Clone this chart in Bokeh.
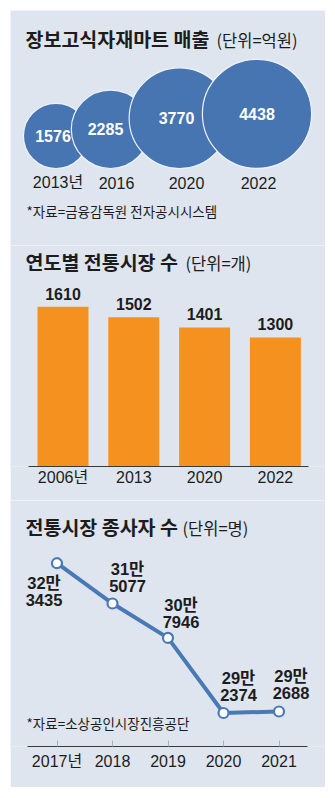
import math
from bokeh.plotting import figure
from bokeh.models import Range1d, FixedTicker, ColumnDataSource
from bokeh.layouts import column
from bokeh.core.properties import value
from bokeh.embed import file_html
from bokeh.resources import INLINE

# ---------------- data ----------------
sales_years = ["2013년", "2016", "2020", "2022"]
sales_values = [1576, 2285, 3770, 4438]          # 억원

market_years = ["2006년", "2013", "2020", "2022"]
market_counts = [1610, 1502, 1401, 1300]         # 개

worker_years = [2017, 2018, 2019, 2020, 2021]
worker_year_labels = ["2017년", "2018", "2019", "2020", "2021"]
worker_counts = [323435, 315077, 307946, 292374, 292688]   # 명

# ---------------- style / layout ----------------
PANEL = "#dee5ef"
BLUE = "#4775b1"
LINE_BLUE = "#4a7ab6"
ORANGE = "#f5921f"
DARK = "#1c1c1c"
KR = "Noto Sans CJK KR"
NUM = "'Liberation Sans', 'Noto Sans CJK KR', sans-serif"
W = 315
X0, X1 = 10, 325


def base_fig(h, xr, yr, bottom=0, xaxis=True):
    p = figure(width=W, height=h, x_range=xr, y_range=yr,
               output_backend="svg", toolbar_location=None,
               x_axis_location="below" if xaxis else None,
               y_axis_location=None,
               min_border_left=0, min_border_right=0, min_border_top=0,
               min_border_bottom=bottom)
    p.background_fill_color = PANEL
    p.border_fill_color = PANEL
    p.outline_line_color = None
    p.grid.visible = False
    return p


def titles(p, y, bold, unit, unit_x, yname="default", xname="default"):
    p.text(x=[25], y=[y], text=[bold], text_font=value(KR), text_font_style="bold",
           text_font_size="19.5px", text_color=DARK, text_baseline="middle",
           text_align="left", x_range_name=xname, y_range_name=yname)
    p.text(x=[unit_x], y=[y + 1], text=[unit], text_font=value(KR),
           text_font_size="16.5px", text_color=DARK, text_baseline="middle",
           text_align="left", x_range_name=xname, y_range_name=yname)


# ---------------- 1) bubbles ----------------
F1_TOP, F1_BOT = 10, 245
p1 = base_fig(F1_BOT - F1_TOP, Range1d(X0, X1), Range1d(F1_BOT, F1_TOP), xaxis=False)
titles(p1, 38, "장보고식자재마트 매출", "(단위=억원)", 216)

BUBBLE_X = [55.5, 110, 179, 256.5]
BUBBLE_BOTTOM = 168
BUBBLE_LABEL_DX = [-3, -5, -3, 0]
K = 0.82
radii = [K * math.sqrt(v) for v in sales_values]
src1 = ColumnDataSource(dict(
    x=BUBBLE_X,
    y=[BUBBLE_BOTTOM - r for r in radii],
    r=radii,
    dx=BUBBLE_LABEL_DX,
    label=[str(v) for v in sales_values],
))
p1.circle(x="x", y="y", radius="r", source=src1, fill_color=BLUE,
          line_color="#eef3fa", line_width=1.2)
p1.text(x="x", y="y", text="label", source=src1, x_offset="dx",
        text_font=value(NUM),
        text_font_style="bold", text_font_size="16px", text_color="white",
        text_align="center", text_baseline="middle")
YEAR_X = [57.5, 116, 186, 258]
p1.text(x=YEAR_X, y=[182] * 4, text=sales_years, text_font=value(NUM),
        text_font_size="16px", text_color=DARK, text_align="center",
        text_baseline="middle")
p1.text(x=[26], y=[210], text=["*자료=금융감독원 전자공시시스템"], text_font=value(KR),
        text_font_size="13.5px", text_color=DARK, text_align="left",
        text_baseline="middle")

# ---------------- 2) bars ----------------
F2_TOP, F2_BASE, F2_BOT = 245, 466, 500
BAR_X0, BAR_STEP = 62.5, 70.8
SCALE2 = 0.0993  # px per unit
s2 = -(BAR_X0 - X0) / BAR_STEP
xr2 = Range1d(s2, s2 + W / BAR_STEP)
yr2 = Range1d(0, (F2_BASE - F2_TOP) / SCALE2)
p2 = base_fig(F2_BOT - F2_TOP, xr2, yr2, bottom=F2_BOT - F2_BASE)
p2.extra_x_ranges = {"px": Range1d(X0, X1)}
p2.extra_y_ranges = {"px": Range1d(F2_BASE, F2_TOP)}
titles(p2, 261, "연도별 전통시장 수", "(단위=개)", 185, yname="px", xname="px")

idx = list(range(len(market_counts)))
src2 = ColumnDataSource(dict(x=idx, top=market_counts,
                             label=[str(v) for v in market_counts]))
p2.vbar(x="x", top="top", bottom=0, width=51 / BAR_STEP, source=src2,
        fill_color=ORANGE, line_color=None)
p2.text(x="x", y="top", text="label", source=src2, text_font=value(NUM),
        text_font_style="bold", text_font_size="16px", text_color=DARK,
        text_align="center", text_baseline="middle", y_offset=-13)
ax2 = p2.xaxis[0]
ax2.ticker = FixedTicker(ticks=idx)
ax2.major_label_overrides = {i: lab for i, lab in zip(idx, market_years)}
ax2.major_tick_in = 0
ax2.major_tick_out = 0
ax2.minor_tick_line_color = None
ax2.axis_line_color = "#3a3a3a"
ax2.axis_line_width = 1
ax2.major_label_text_font = NUM
ax2.major_label_text_font_size = "16px"
ax2.major_label_text_color = DARK
ax2.major_label_standoff = 2
ax2.bounds = (s2 + (28 - X0) / BAR_STEP, s2 + (308 - X0) / BAR_STEP)

# ---------------- 3) line ----------------
F3_TOP, F3_BASE, F3_BOT = 500, 746, 787
YR_X0, YR_STEP = 56.5, 55.5
s3 = worker_years[0] - (YR_X0 - X0) / YR_STEP
xr3 = Range1d(s3, s3 + W / YR_STEP)
SCALE3 = 0.004823  # px per person
ANCHOR_PX = 562.7
anchor_v = max(worker_counts)
yr3 = Range1d(anchor_v - (F3_BASE - ANCHOR_PX) / SCALE3,
              anchor_v + (ANCHOR_PX - F3_TOP) / SCALE3)
p3 = base_fig(F3_BOT - F3_TOP, xr3, yr3, bottom=F3_BOT - F3_BASE)
p3.extra_x_ranges = {"px": Range1d(X0, X1)}
p3.extra_y_ranges = {"px": Range1d(F3_BASE, F3_TOP)}
titles(p3, 526, "전통시장 종사자 수", "(단위=명)", 182, yname="px", xname="px")

LBL_DX = [-13, 15, 13, 15, 12]
LBL_DY = [20, -35, -33, -35, -35]
src3 = ColumnDataSource(dict(
    x=worker_years, y=worker_counts,
    top=[f"{v // 10000}만" for v in worker_counts],
    bot=[f"{v % 10000:04d}" for v in worker_counts],
    dx=LBL_DX, dy=LBL_DY, dy2=[d + 17 for d in LBL_DY],
))
p3.line(x="x", y="y", source=src3, line_color=LINE_BLUE, line_width=4)
p3.scatter(x="x", y="y", source=src3, size=10, fill_color="white",
           line_color=LINE_BLUE, line_width=2.2)
for col, dyc in (("top", "dy"), ("bot", "dy2")):
    p3.text(x="x", y="y", text=col, source=src3, x_offset="dx", y_offset=dyc,
            text_font=value(NUM), text_font_style="bold",
            text_font_size="16.5px", text_color=DARK, text_align="center",
            text_baseline="middle")
p3.text(x=[26], y=[722], text=["*자료=소상공인시장진흥공단"], text_font=value(KR),
        text_font_size="13.5px", text_color=DARK, text_align="left",
        text_baseline="middle", x_range_name="px", y_range_name="px")
ax3 = p3.xaxis[0]
ax3.ticker = FixedTicker(ticks=worker_years)
ax3.major_label_overrides = {y: lab for y, lab in zip(worker_years, worker_year_labels)}
ax3.major_tick_in = 6
ax3.major_tick_out = 0
ax3.major_tick_line_color = "#a8b0ba"
ax3.minor_tick_line_color = None
ax3.axis_line_color = "#3a3a3a"
ax3.axis_line_width = 1
ax3.major_label_text_font = NUM
ax3.major_label_text_font_size = "16px"
ax3.major_label_text_color = DARK
ax3.major_label_standoff = 6
ax3.bounds = (s3 + (27 - X0) / YR_STEP, s3 + (307 - X0) / YR_STEP)

layout = column(p1, p2, p3, margin=(10, 10, 11, 10), spacing=0)

open("out.html", "w").write(file_html(layout, INLINE))
